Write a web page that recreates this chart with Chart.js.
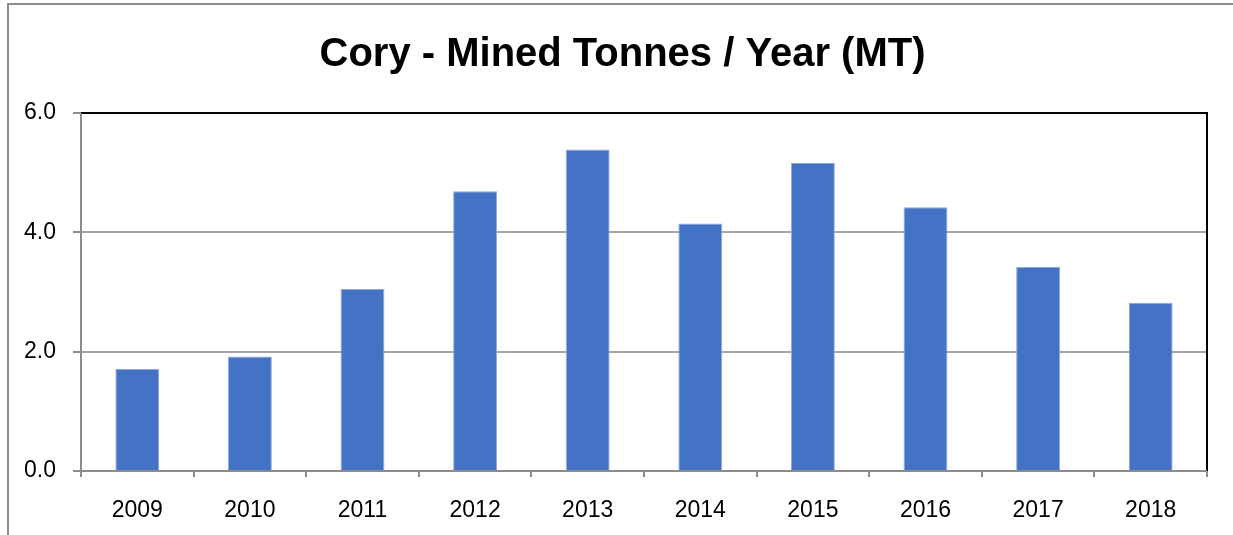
<!DOCTYPE html>
<html>
<head>
<meta charset="utf-8">
<script src="https://cdn.jsdelivr.net/npm/chart.js@4.4.1/dist/chart.umd.min.js"></script>
<style>
  html, body { margin: 0; padding: 0; background: #ffffff; }
  #wrap { width: 1233px; height: 535px; position: relative; }
</style>
</head>
<body>
<div id="wrap"><canvas id="c" width="1233" height="535"></canvas></div>
<script>
const categories = ["2009", "2010", "2011", "2012", "2013", "2014", "2015", "2016", "2017", "2018"];
const minedTonnes = [1.71, 1.92, 3.05, 4.69, 5.39, 4.15, 5.16, 4.42, 3.42, 2.82];
const yTicks = [0, 2, 4, 6];
const chartTitle = "Cory - Mined Tonnes / Year (MT)";

const FONT = "'Liberation Sans', Arial, sans-serif";

const framePlugin = {
  id: 'frame',
  beforeDraw(chart) {
    const ctx = chart.ctx;
    ctx.save();
    ctx.fillStyle = '#ffffff';
    ctx.fillRect(0, 0, chart.width, chart.height);
    ctx.strokeStyle = '#8c8c8c';
    ctx.lineWidth = 2;
    ctx.beginPath();
    ctx.moveTo(8, chart.height);
    ctx.lineTo(8, 4);
    ctx.lineTo(chart.width, 4);
    ctx.stroke();
    ctx.restore();
  },
  afterDatasetsDraw(chart) {
    const a = chart.chartArea;
    const ctx = chart.ctx;
    ctx.save();
    ctx.strokeStyle = '#000000';
    ctx.lineWidth = 2;
    ctx.beginPath();
    ctx.moveTo(a.left, a.top);
    ctx.lineTo(a.right, a.top);
    ctx.lineTo(a.right, a.bottom);
    ctx.stroke();
    ctx.strokeStyle = '#8c8c8c';
    ctx.beginPath();
    ctx.moveTo(a.left - 8, a.bottom);
    ctx.lineTo(a.right, a.bottom);
    ctx.moveTo(a.left, a.top);
    ctx.lineTo(a.left, a.bottom);
    ctx.stroke();
    ctx.restore();
  }
};

new Chart(document.getElementById('c'), {
  type: 'bar',
  data: {
    labels: categories,
    datasets: [{
      data: minedTonnes,
      backgroundColor: '#4472C4',
      borderColor: '#8eaadb',
      borderWidth: { top: 1, left: 1, right: 1, bottom: 0 },
      barPercentage: 0.39,
      categoryPercentage: 1.0
    }]
  },
  options: {
    responsive: false,
    animation: false,
    devicePixelRatio: 1,
    layout: { padding: { top: 0, left: 12, right: 0, bottom: 0 } },
    plugins: {
      legend: { display: false },
      tooltip: { enabled: false },
      title: {
        display: true,
        text: chartTitle,
        color: '#000000',
        font: { family: FONT, size: 40, weight: 'bold', lineHeight: 1.2 },
        padding: { top: 31, bottom: 34 }
      }
    },
    scales: {
      x: {
        offset: true,
        grid: { offset: true, drawOnChartArea: false, drawTicks: true, tickLength: 6, color: '#8c8c8c', lineWidth: 2 },
        border: { display: false },
        ticks: { color: '#000000', font: { family: FONT, size: 23 }, padding: 20, maxRotation: 0 },
        afterFit(scale) { scale.height = 64; }
      },
      y: {
        min: 0,
        max: 6,
        afterBuildTicks(scale) { scale.ticks = yTicks.map(v => ({ value: v })); },
        grid: { color: '#a6a6a6', lineWidth: 2, drawTicks: true, tickLength: 8, tickColor: '#8c8c8c' },
        border: { display: false },
        ticks: { color: '#000000', font: { family: FONT, size: 23 }, padding: 17,
                 callback: v => Number(v).toFixed(1) },
        afterFit(scale) { scale.width = 69; }
      },
      yRight: {
        type: 'linear',
        position: 'right',
        display: true,
        min: 0,
        max: 6,
        grid: { display: false, drawTicks: false },
        border: { display: false },
        ticks: { display: false },
        afterFit(scale) { scale.width = 26; }
      }
    }
  },
  plugins: [framePlugin]
});
</script>
</body>
</html>
